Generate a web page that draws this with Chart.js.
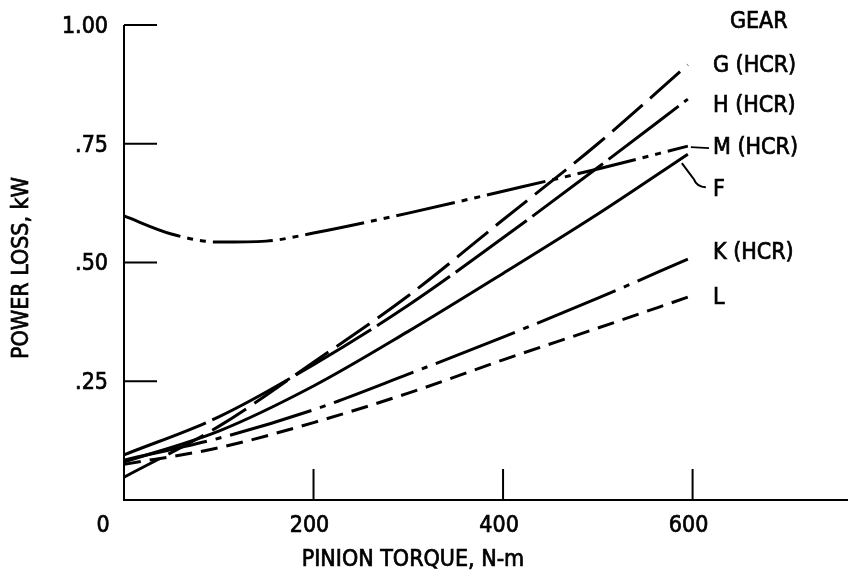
<!DOCTYPE html>
<html lang="en">
<head>
  <meta charset="UTF-8">
  <title>Power Loss vs Pinion Torque</title>
  <script src="https://cdn.jsdelivr.net/npm/chart.js"></script>
  <style>
    body {
      margin: 0;
      background: #fff;
    }

    .wrap {
      width: 848px;
      height: 579px;
    }
  </style>
</head>
<body>

<div class="wrap">
  <canvas id="lossChart" width="848" height="579"></canvas>
</div>

<script>
  // Data (pinion torque N-m, power loss kW)
  const torque = [0, 100, 200, 300, 400, 500, 595];
  const torqueM = [0, 50, 100, 150, 200, 300, 400, 500, 595];

  const lossG = [0.048, 0.155, 0.29, 0.43, 0.59, 0.75, 0.916];
  const lossH = [0.095, 0.175, 0.285, 0.41, 0.552, 0.70, 0.844];
  const lossM = [0.598, 0.56, 0.543, 0.545, 0.562, 0.604, 0.65, 0.697, 0.745];
  const lossF = [0.08, 0.145, 0.24, 0.355, 0.477, 0.602, 0.728];
  const lossK = [0.084, 0.13, 0.19, 0.265, 0.343, 0.425, 0.507];
  const lossL = [0.075, 0.11, 0.163, 0.225, 0.295, 0.362, 0.427];

  const gearNames = ['G (HCR)', 'H (HCR)', 'M (HCR)', 'F', 'K (HCR)', 'L'];
  const xTicks = [200, 400, 600];
  const yTicks = [0.25, 0.50, 0.75, 1.00];
  const yTickText = ['.25', '.50', '.75', '1.00'];

  const FONT = "'DejaVu Sans Condensed', 'Liberation Sans Narrow', sans-serif";

  function pts(xs, ys) {
    return xs.map((x, i) => ({ x: x, y: ys[i] }));
  }

  const lineSets = [
    { data: pts(torque, lossG), dash: [40, 10] },
    { data: pts(torque, lossH), dash: [88, 7] },
    { data: pts(torqueM, lossM), dash: [60, 7, 6, 7, 6, 7] },
    { data: pts(torque, lossF), dash: [] },
    { data: pts(torque, lossK), dash: [85, 9, 6, 9] },
    { data: pts(torque, lossL), dash: [17, 9] }
  ];

  // label offsets from each curve's end (px)
  const labelDy = [0, 6, 1, 35, -7, 0];

  // slightly heavier text, like the original lettering
  function label(c, txt, x, y) {
    c.fillText(txt, x, y);
    c.strokeText(txt, x, y);
  }

  const axesPlugin = {
    id: 'axesPlugin',
    afterDraw(chart) {
      const c = chart.ctx;
      const xs = chart.scales.x;
      const ys = chart.scales.y;
      const area = chart.chartArea;
      c.save();
      c.strokeStyle = '#000';
      c.fillStyle = '#000';
      c.lineWidth = 2;
      c.setLineDash([]);

      // axis lines
      c.beginPath();
      c.moveTo(area.left, area.top);
      c.lineTo(area.left, area.bottom);
      c.lineTo(area.right, area.bottom);
      c.stroke();

      // y ticks (pointing inward)
      yTicks.forEach(v => {
        const py = ys.getPixelForValue(v);
        c.beginPath();
        c.moveTo(area.left, py);
        c.lineTo(area.left + 33, py);
        c.stroke();
      });
      // x ticks (pointing up)
      xTicks.forEach(v => {
        const px = xs.getPixelForValue(v);
        c.beginPath();
        c.moveTo(px, area.bottom);
        c.lineTo(px, area.bottom - 31);
        c.stroke();
      });

      c.font = '23px ' + FONT;
      c.lineWidth = 0.7;
      c.textBaseline = 'middle';
      c.textAlign = 'right';
      yTicks.forEach((v, i) => {
        label(c, yTickText[i], area.left - 16, ys.getPixelForValue(v) + 2);
      });

      c.textAlign = 'center';
      xTicks.forEach(v => {
        label(c, String(v), xs.getPixelForValue(v) - 4, area.bottom + 26);
      });
      label(c, '0', area.left - 21, area.bottom + 26);

      // axis titles
      label(c, 'PINION TORQUE, N-m', 413, 560);
      c.save();
      c.translate(22, 268);
      c.rotate(-Math.PI / 2);
      label(c, 'POWER LOSS, kW', 0, 0);
      c.restore();

      // labels at curve ends
      c.textAlign = 'left';
      label(c, 'GEAR', 730, 22);
      const ends = chart.data.datasets.map((ds, i) => {
        const meta = chart.getDatasetMeta(i);
        const last = meta.data[meta.data.length - 1];
        return { x: last.x, y: last.y };
      });
      ends.forEach((e, i) => {
        label(c, gearNames[i], 713, e.y + labelDy[i] + 1);
      });

      // leader lines for M and F
      c.lineWidth = 2;
      const m = ends[2];
      c.beginPath();
      c.moveTo(m.x + 3, m.y + 1);
      c.lineTo(709, m.y + 2);
      c.stroke();
      const f = ends[3];
      c.beginPath();
      c.moveTo(f.x - 6, f.y + 9);
      c.lineTo(f.x + 6, f.y + 25);
      c.quadraticCurveTo(f.x + 9, f.y + 33, f.x + 18, f.y + 33);
      c.stroke();
      c.restore();
    }
  };

  new Chart(document.getElementById('lossChart').getContext('2d'), {
    type: 'line',
    data: {
      datasets: lineSets.map((s, i) => ({
        label: gearNames[i],
        data: s.data,
        borderColor: '#000',
        borderWidth: 3,
        borderDash: s.dash,
        borderCapStyle: 'butt',
        pointRadius: 0,
        fill: false,
        tension: 0.4,
        cubicInterpolationMode: 'monotone',
        clip: false
      }))
    },
    options: {
      responsive: false,
      animation: false,
      layout: {
        padding: { left: 124, right: 0, top: 25, bottom: 79 }
      },
      plugins: {
        legend: { display: false },
        tooltip: { enabled: false }
      },
      scales: {
        x: {
          type: 'linear',
          min: 0,
          max: 764,
          display: false
        },
        y: {
          type: 'linear',
          min: 0,
          max: 1,
          display: false
        }
      }
    },
    plugins: [axesPlugin]
  });
</script>

</body>
</html>
